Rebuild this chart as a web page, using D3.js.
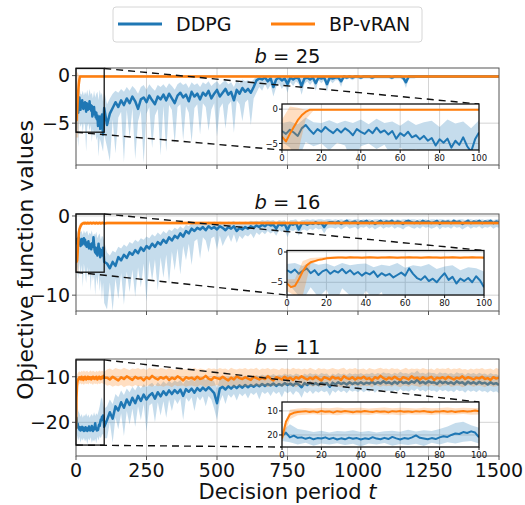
<!DOCTYPE html>
<html lang="en">
<head>
<meta charset="UTF-8">
<title>Objective function values, DDPG vs BP-vRAN</title>
<script src="https://d3js.org/d3.v7.min.js"></script>
<style>
    body { margin: 0; background: #fff; }
    text { font-family: "DejaVu Sans", sans-serif; fill: #111; }
</style>
</head>
<body>
<script>
    // decision periods: every 2 up to 100 (inset detail), then every 10
    const tLine = d3.range(0, 101, 2).concat(d3.range(110, 1501, 10));
    // band samples: every 4 up to 100, then every 10
    const tBand = d3.range(0, 101, 4).concat(d3.range(110, 1501, 10));

    const seriesNames = ["DDPG", "BP-vRAN"];
    const xTicks = [0, 250, 500, 750, 1000, 1250, 1500];
    const insetXTicks = [0, 20, 40, 60, 80, 100];

    // ---------- b = 25 ----------
    const ddpg25 = [
        -3.2,-3.6,-3.0,-3.4,-3.9,-2.8,-2.3,-3.0,-3.6,-2.9,
        -3.3,-2.6,-3.1,-3.5,-2.9,-3.4,-2.8,-3.2,-3.8,-2.9,
        -3.3,-3.6,-3.0,-3.5,-2.7,-3.4,-3.1,-3.7,-3.2,-4.3,
        -3.5,-3.9,-3.3,-4.1,-3.8,-4.4,-3.9,-4.6,-4.2,-5.3,
        -4.4,-4.9,-4.3,-5.6,-4.6,-5.2,-4.1,-5.4,-6.2,-4.4,
        -3.4,
        -5.2,-4.0,-3.4,-2.8,-3.3,-2.6,-3.1,-2.4,-2.9,-2.2,
        -2.7,-3.5,-2.5,-2.3,-2.8,-2.1,-2.6,-3.0,-2.2,-2.5,
        -2.0,-2.6,-1.9,-2.4,-2.9,-2.1,-1.8,-2.3,-2.0,-2.7,
        -1.7,-2.2,-1.9,-2.5,-1.8,-2.1,-1.6,-2.4,-1.9,-1.5,
        -2.2,-1.8,-1.4,-2.0,-1.7,-2.6,-1.5,-1.9,-1.3,-1.7,
        -1.4,-1.8,-1.2,-0.5,-0.3,-0.4,-0.2,-0.6,-0.3,-1.2,
        -0.4,-0.2,-0.5,-0.3,-0.9,-0.2,-0.4,-0.2,-0.3,-1.1,
        -0.3,-0.2,-0.4,-0.2,-0.8,-0.2,-0.3,-0.2,-0.9,-0.2,
        -0.3,-0.2,-0.2,-0.6,-0.1,-0.2,-0.1,-0.2,-0.1,-0.1,
        -0.2,-0.1,-0.1,-0.1,-0.2,-0.1,-0.1,-0.1,-0.1,-0.1,
        -0.1,-0.2,-0.1,-0.1,-0.1,-0.2,-0.7,-0.1,-0.1,-0.1,
        -0.1,-0.1,-0.1,-0.1,-0.1,-0.1,-0.1,-0.1,-0.1,-0.1,
        -0.1,-0.1,-0.1,-0.1,-0.1,-0.1,-0.1,-0.1,-0.1,-0.1,
        -0.1,-0.1,-0.1,-0.1,-0.1,-0.1,-0.1,-0.1,-0.1,-0.1
    ];
    const ddpg25Lo = [
        -4.8,-5.6,-7.5,-4.8,-5.4,-5.0,-6.0,-4.9,-5.3,-8.0,-5.4,-5.0,-5.8,
        -5.2,-7.0,-5.6,-6.5,-5.8,-6.8,-6.4,-8.5,-6.6,-7.0,-7.5,-8.0,-6.2,
        -7.5,-9.0,-4.6,-8.2,-4.4,-3.8,-9.1,-3.6,-6.5,-3.4,
        -8.8,-4.8,-3.7,-9.2,-4.0,-3.3,-7.6,-4.2,-3.5,-8.4,
        -3.2,-8.0,-3.1,-3.6,-7.2,-3.3,-3.0,-6.8,-3.2,-3.9,
        -7.0,-3.4,-3.0,-6.2,-2.9,-3.3,-5.8,-3.6,-2.9,-6.4,
        -3.4,-2.9,-5.6,-3.1,-2.7,-6.0,-2.6,-3.0,-4.8,-2.8,
        -2.5,-5.2,-2.4,-1.8,-1.2,-1.6,-0.9,-1.5,-1.0,-2.2,
        -1.2,-0.8,-1.4,-0.9,-1.8,-0.7,-1.1,-0.6,-0.9,-2.0,
        -0.9,-0.6,-1.0,-0.6,-1.6,-0.5,-0.8,-0.5,-1.7,-0.5,
        -0.8,-0.5,-0.5,-1.2,-0.3,-0.4,-0.3,-0.5,-0.3,-0.3,
        -0.4,-0.3,-0.3,-0.3,-0.4,-0.3,-0.3,-0.3,-0.3,-0.3,
        -0.3,-0.4,-0.3,-0.3,-0.3,-0.5,-1.3,-0.3,-0.3,-0.3,
        -0.2,-0.2,-0.2,-0.2,-0.2,-0.2,-0.2,-0.2,-0.2,-0.2,
        -0.2,-0.2,-0.2,-0.2,-0.2,-0.2,-0.2,-0.2,-0.2,-0.2,
        -0.2,-0.2,-0.2,-0.2,-0.2,-0.2,-0.2,-0.2,-0.2,-0.2
    ];
    const ddpg25Hi = [
        -2.0,-1.8,-2.2,-1.2,-1.9,-2.0,-1.6,-2.1,-1.7,-2.0,-1.5,-2.2,-1.4,
        -2.0,-1.8,-2.4,-1.6,-2.3,-1.9,-1.7,-2.6,-1.5,-2.1,-1.8,-2.8,-1.6,
        -3.0,-2.4,-1.9,-1.6,-1.8,-1.4,-1.7,-1.2,-1.6,-1.1,
        -1.4,-1.9,-1.2,-1.0,-1.5,-0.9,-1.3,-1.6,-1.0,-1.2,
        -0.9,-1.3,-0.8,-1.1,-1.5,-0.9,-0.7,-1.0,-0.8,-1.3,
        -0.7,-1.0,-0.8,-1.2,-0.7,-0.9,-0.6,-1.1,-0.8,-0.6,
        -1.0,-0.7,-0.5,-0.9,-0.7,-1.2,-0.5,-0.8,-0.4,-0.6,
        -0.5,-0.7,-0.4,0.0,0.0,0.0,0.0,0.0,0.0,-0.3,
        0.0,0.0,0.0,0.0,0.0,0.0,0.0,0.0,0.0,0.0,
        0.0,0.0,0.0,0.0,0.0,0.0,0.0,0.0,0.0,0.0,
        0.0,0.0,0.0,0.0,0.0,0.0,0.0,0.0,0.0,0.0,
        0.0,0.0,0.0,0.0,0.0,0.0,0.0,0.0,0.0,0.0,
        0.0,0.0,0.0,0.0,0.0,0.0,0.0,0.0,0.0,0.0,
        0.0,0.0,0.0,0.0,0.0,0.0,0.0,0.0,0.0,0.0,
        0.0,0.0,0.0,0.0,0.0,0.0,0.0,0.0,0.0,0.0,
        0.0,0.0,0.0,0.0,0.0,0.0,0.0,0.0,0.0,0.0
    ];
    const bp25 = [
        -4.0,-4.7,-3.6,-2.6,-1.6,-0.9,-0.4,-0.1,-0.1,-0.1,
        -0.1,-0.1,-0.1,-0.1,-0.1,-0.1,-0.1,-0.1,-0.1,-0.1,
        -0.1,-0.1,-0.1,-0.1,-0.1,-0.1,-0.1,-0.1,-0.1,-0.1,
        -0.1,-0.1,-0.1,-0.1,-0.1,-0.1,-0.1,-0.1,-0.1,-0.1,
        -0.1,-0.1,-0.1,-0.1,-0.1,-0.1,-0.1,-0.1,-0.1,-0.1,
        -0.1,
        -0.1,-0.1,-0.1,-0.1,-0.1,-0.1,-0.1,-0.1,-0.1,-0.1,-0.1,-0.1,-0.1,-0.1,-0.1,-0.1,-0.1,-0.1,-0.1,-0.1,
        -0.1,-0.1,-0.1,-0.1,-0.1,-0.1,-0.1,-0.1,-0.1,-0.1,-0.1,-0.1,-0.1,-0.1,-0.1,-0.1,-0.1,-0.1,-0.1,-0.1,
        -0.1,-0.1,-0.1,-0.1,-0.1,-0.1,-0.1,-0.1,-0.1,-0.1,-0.1,-0.1,-0.1,-0.1,-0.1,-0.1,-0.1,-0.1,-0.1,-0.1,
        -0.1,-0.1,-0.1,-0.1,-0.1,-0.1,-0.1,-0.1,-0.1,-0.1,-0.1,-0.1,-0.1,-0.1,-0.1,-0.1,-0.1,-0.1,-0.1,-0.1,
        -0.1,-0.1,-0.1,-0.1,-0.1,-0.1,-0.1,-0.1,-0.1,-0.1,-0.1,-0.1,-0.1,-0.1,-0.1,-0.1,-0.1,-0.1,-0.1,-0.1,
        -0.1,-0.1,-0.1,-0.1,-0.1,-0.1,-0.1,-0.1,-0.1,-0.1,-0.1,-0.1,-0.1,-0.1,-0.1,-0.1,-0.1,-0.1,-0.1,-0.1,
        -0.1,-0.1,-0.1,-0.1,-0.1,-0.1,-0.1,-0.1,-0.1,-0.1,-0.1,-0.1,-0.1,-0.1,-0.1,-0.1,-0.1,-0.1,-0.1,-0.1
    ];
    const bp25Lo = [
        -6.5,-6.5,-6.5,-1.5,-0.2,-0.2,-0.2,-0.2,-0.2,-0.2,-0.2,-0.2,-0.2,
        -0.2,-0.2,-0.2,-0.2,-0.2,-0.2,-0.2,-0.2,-0.2,-0.2,-0.2,-0.2,-0.2,
        -0.2,-0.2,-0.2,-0.2,-0.2,-0.2,-0.2,-0.2,-0.2,-0.2,-0.2,-0.2,-0.2,-0.2,-0.2,-0.2,-0.2,-0.2,-0.2,-0.2,
        -0.2,-0.2,-0.2,-0.2,-0.2,-0.2,-0.2,-0.2,-0.2,-0.2,-0.2,-0.2,-0.2,-0.2,-0.2,-0.2,-0.2,-0.2,-0.2,-0.2,
        -0.2,-0.2,-0.2,-0.2,-0.2,-0.2,-0.2,-0.2,-0.2,-0.2,-0.2,-0.2,-0.2,-0.2,-0.2,-0.2,-0.2,-0.2,-0.2,-0.2,
        -0.2,-0.2,-0.2,-0.2,-0.2,-0.2,-0.2,-0.2,-0.2,-0.2,-0.2,-0.2,-0.2,-0.2,-0.2,-0.2,-0.2,-0.2,-0.2,-0.2,
        -0.2,-0.2,-0.2,-0.2,-0.2,-0.2,-0.2,-0.2,-0.2,-0.2,-0.2,-0.2,-0.2,-0.2,-0.2,-0.2,-0.2,-0.2,-0.2,-0.2,
        -0.2,-0.2,-0.2,-0.2,-0.2,-0.2,-0.2,-0.2,-0.2,-0.2,-0.2,-0.2,-0.2,-0.2,-0.2,-0.2,-0.2,-0.2,-0.2,-0.2,
        -0.2,-0.2,-0.2,-0.2,-0.2,-0.2,-0.2,-0.2,-0.2,-0.2,-0.2,-0.2,-0.2,-0.2,-0.2,-0.2,-0.2,-0.2,-0.2,-0.2
    ];
    const bp25Hi = [
        -1.5,0.4,0.2,-0.1,0.0,0.0,0.0,0.0,0.0,0.0,0.0,0.0,0.0,
        0.0,0.0,0.0,0.0,0.0,0.0,0.0,0.0,0.0,0.0,0.0,0.0,0.0,
        0.0,0.0,0.0,0.0,0.0,0.0,0.0,0.0,0.0,0.0,0.0,0.0,0.0,0.0,0.0,0.0,0.0,0.0,0.0,0.0,
        0.0,0.0,0.0,0.0,0.0,0.0,0.0,0.0,0.0,0.0,0.0,0.0,0.0,0.0,0.0,0.0,0.0,0.0,0.0,0.0,
        0.0,0.0,0.0,0.0,0.0,0.0,0.0,0.0,0.0,0.0,0.0,0.0,0.0,0.0,0.0,0.0,0.0,0.0,0.0,0.0,
        0.0,0.0,0.0,0.0,0.0,0.0,0.0,0.0,0.0,0.0,0.0,0.0,0.0,0.0,0.0,0.0,0.0,0.0,0.0,0.0,
        0.0,0.0,0.0,0.0,0.0,0.0,0.0,0.0,0.0,0.0,0.0,0.0,0.0,0.0,0.0,0.0,0.0,0.0,0.0,0.0,
        0.0,0.0,0.0,0.0,0.0,0.0,0.0,0.0,0.0,0.0,0.0,0.0,0.0,0.0,0.0,0.0,0.0,0.0,0.0,0.0,
        0.0,0.0,0.0,0.0,0.0,0.0,0.0,0.0,0.0,0.0,0.0,0.0,0.0,0.0,0.0,0.0,0.0,0.0,0.0,0.0
    ];

    // ---------- b = 16 ----------
    const ddpg16 = [
        -3.0,-3.4,-2.9,-3.6,-3.1,-2.7,-3.5,-3.0,-3.8,-3.2,
        -2.9,-3.6,-3.1,-3.4,-2.8,-3.5,-3.0,-3.7,-3.3,-3.9,
        -3.4,-3.7,-3.2,-4.1,-3.5,-3.9,-3.6,-4.2,-3.8,-3.4,
        -3.9,-2.7,-3.6,-4.3,-4.6,-4.0,-4.8,-4.4,-5.0,-4.2,
        -3.5,-4.6,-4.1,-5.2,-4.4,-4.8,-4.3,-5.0,-4.0,-4.7,
        -5.8,
        -6.0,-6.6,-5.8,-6.3,-5.2,-5.6,-4.9,-5.3,-4.6,-4.9,
        -4.3,-4.7,-4.0,-4.4,-3.8,-4.1,-3.5,-3.9,-3.3,-3.6,
        -3.0,-3.4,-2.7,-3.1,-2.5,-2.8,-2.2,-2.6,-1.9,-2.2,
        -1.6,-1.9,-1.5,-1.7,-1.4,-1.8,-1.3,-1.6,-1.4,-1.7,
        -1.3,-1.5,-1.8,-1.4,-1.6,-1.3,-1.9,-1.5,-1.7,-1.4,
        -1.6,-1.3,-1.5,-1.2,-1.4,-1.1,-1.3,-1.0,-1.2,-1.1,
        -1.6,-1.0,-1.2,-1.0,-1.8,-1.0,-1.1,-0.9,-1.7,-1.0,
        -0.9,-1.1,-0.9,-1.0,-0.8,-1.0,-0.9,-1.4,-0.9,-0.8,
        -0.8,-0.9,-0.7,-1.0,-0.8,-0.6,-0.9,-0.8,-0.7,-1.0,
        -0.7,-0.8,-0.6,-0.9,-0.7,-1.0,-0.8,-0.6,-0.9,-0.7,
        -0.8,-0.6,-0.9,-0.7,-0.8,-1.0,-0.7,-0.6,-0.8,-0.9,
        -0.7,-0.9,-0.6,-0.8,-0.7,-0.9,-0.8,-0.6,-1.0,-0.7,
        -0.8,-0.7,-0.9,-0.6,-0.8,-0.7,-1.0,-0.8,-0.6,-0.9,
        -0.7,-0.8,-0.6,-0.9,-0.7,-0.8,-0.6,-0.9,-0.7,-0.8
    ];
    const ddpg16Lo = [
        -5.0,-6.5,-8.0,-5.8,-7.5,-6.2,-9.0,-6.0,-7.2,-8.5,-6.4,-7.8,-6.6,
        -9.5,-7.0,-8.2,-7.4,-10.0,-7.6,-8.8,-7.2,-9.5,-8.0,-10.5,-8.4,-11.0,
        -11.8,-8.4,-12.0,-7.9,-10.5,-7.2,-11.2,-7.0,-9.6,-6.8,
        -10.2,-6.5,-9.0,-6.0,-10.8,-5.6,-8.2,-5.5,-9.4,-5.2,
        -7.8,-4.9,-8.6,-4.5,-6.9,-4.1,-7.4,-3.8,-5.6,-3.5,
        -6.2,-3.2,-2.9,-5.4,-2.7,-3.1,-4.6,-2.8,-2.6,-4.2,
        -2.5,-3.8,-3.0,-2.4,-3.3,-2.3,-3.4,-2.5,-2.9,-2.4,
        -2.6,-2.2,-2.8,-2.1,-2.4,-2.0,-2.3,-1.9,-2.2,-2.0,
        -2.5,-1.8,-2.0,-1.8,-2.7,-1.8,-1.9,-1.7,-2.5,-1.8,
        -1.7,-1.9,-1.6,-1.8,-1.5,-1.7,-1.6,-2.2,-1.6,-1.5,
        -1.5,-1.6,-1.4,-1.7,-1.5,-1.3,-1.6,-1.5,-1.4,-1.7,
        -1.4,-1.5,-1.3,-1.6,-1.4,-1.7,-1.5,-1.3,-1.6,-1.4,
        -1.5,-1.3,-1.6,-1.4,-1.5,-1.7,-1.4,-1.3,-1.5,-1.6,
        -1.4,-1.6,-1.3,-1.5,-1.4,-1.6,-1.5,-1.3,-1.7,-1.4,
        -1.5,-1.4,-1.6,-1.3,-1.5,-1.4,-1.7,-1.5,-1.3,-1.6,
        -1.4,-1.5,-1.3,-1.6,-1.4,-1.5,-1.3,-1.6,-1.4,-1.5
    ];
    const ddpg16Hi = [
        -2.0,-1.8,-2.3,-1.7,-2.1,-1.9,-2.4,-1.8,-2.2,-2.0,-1.9,-2.5,-2.1,
        -2.3,-1.8,-2.6,-2.2,-2.4,-2.0,-2.8,-2.4,-2.2,-3.0,-2.5,-2.7,-3.2,
        -4.6,-5.0,-4.4,-4.6,-3.9,-4.1,-3.6,-3.9,-3.3,-3.5,
        -3.0,-3.3,-2.8,-3.0,-2.6,-2.8,-2.3,-2.6,-2.1,-2.4,
        -1.9,-2.2,-1.7,-1.9,-1.5,-1.7,-1.3,-1.6,-1.1,-1.3,
        -0.9,-1.1,-0.8,-1.0,-0.8,-1.0,-0.7,-0.9,-0.7,-0.9,
        -0.7,-0.8,-1.0,-0.7,-0.8,-0.6,-1.0,-0.7,-0.9,-0.7,
        -0.8,-0.6,-0.7,-0.6,-0.7,-0.5,-0.6,-0.5,-0.6,-0.5,
        -0.8,-0.5,-0.6,-0.5,-0.9,-0.5,-0.5,-0.4,-0.8,-0.5,
        -0.5,-0.4,-0.5,-0.4,-0.5,-0.4,-0.4,-0.5,-0.4,-0.4,
        -0.5,-0.4,-0.5,-0.4,-0.5,-0.4,-0.4,-0.5,-0.4,-0.4,
        -0.5,-0.4,-0.5,-0.4,-0.5,-0.4,-0.4,-0.5,-0.4,-0.4,
        -0.5,-0.4,-0.5,-0.4,-0.5,-0.4,-0.4,-0.5,-0.4,-0.4,
        -0.5,-0.4,-0.5,-0.4,-0.5,-0.4,-0.4,-0.5,-0.4,-0.4,
        -0.5,-0.4,-0.5,-0.4,-0.5,-0.4,-0.4,-0.5,-0.4,-0.4,
        -0.5,-0.4,-0.5,-0.4,-0.5,-0.4,-0.4,-0.5,-0.4,-0.4
    ];
    const bp16 = [
        -5.2,-5.8,-5.6,-4.5,-3.2,-2.2,-1.7,-1.5,-1.3,-1.2,-1.05,-1.0,
        -0.95,-0.9,-0.9,-0.95,-0.85,-0.9,-0.9,-0.95,-0.9,-0.85,
        -0.9,-0.95,-0.9,-0.9,-0.85,-0.9,-0.95,-0.9,-0.9,-0.85,
        -0.9,-0.9,-0.95,-0.9,-0.85,-0.9,-0.9,-0.95,-0.9,-0.9,
        -0.85,-0.9,-0.95,-0.9,-0.9,-0.85,-0.9,-0.9,-0.95,
        -0.9,-0.9,-0.9,-0.9,-0.9,-0.9,-0.9,-0.9,-0.9,-0.9,-0.9,-0.9,-0.9,-0.9,-0.9,-0.9,-0.9,-0.9,-0.9,-0.9,
        -0.9,-0.9,-0.9,-0.9,-0.9,-0.9,-0.9,-0.9,-0.9,-0.9,-0.9,-0.9,-0.9,-0.9,-0.9,-0.9,-0.9,-0.9,-0.9,-0.9,
        -0.9,-0.9,-0.9,-0.9,-0.9,-0.9,-0.9,-0.9,-0.9,-0.9,-0.9,-0.9,-0.9,-0.9,-0.9,-0.9,-0.9,-0.9,-0.9,-0.9,
        -0.9,-0.9,-0.9,-0.9,-0.9,-0.9,-0.9,-0.9,-0.9,-0.9,-0.9,-0.9,-0.9,-0.9,-0.9,-0.9,-0.9,-0.9,-0.9,-0.9,
        -0.9,-0.9,-0.9,-0.9,-0.9,-0.9,-0.9,-0.9,-0.9,-0.9,-0.9,-0.9,-0.9,-0.9,-0.9,-0.9,-0.9,-0.9,-0.9,-0.9,
        -0.9,-0.9,-0.9,-0.9,-0.9,-0.9,-0.9,-0.9,-0.9,-0.9,-0.9,-0.9,-0.9,-0.9,-0.9,-0.9,-0.9,-0.9,-0.9,-0.9,
        -0.9,-0.9,-0.9,-0.9,-0.9,-0.9,-0.9,-0.9,-0.9,-0.9,-0.9,-0.9,-0.9,-0.9,-0.9,-0.9,-0.9,-0.9,-0.9,-0.9
    ];
    const bp16Lo = [
        -6.5,-7.2,-7.2,-2.0,-1.5,-1.2,-1.1,-1.1,-1.1,-1.1,-1.1,-1.1,-1.1,
        -1.1,-1.1,-1.1,-1.1,-1.1,-1.1,-1.1,-1.1,-1.1,-1.1,-1.1,-1.1,-1.1,
        -1.1,-1.1,-1.1,-1.1,-1.1,-1.1,-1.1,-1.1,-1.1,-1.1,-1.1,-1.1,-1.1,-1.1,-1.1,-1.1,-1.1,-1.1,-1.1,-1.1,
        -1.1,-1.1,-1.1,-1.1,-1.1,-1.1,-1.1,-1.1,-1.1,-1.1,-1.1,-1.1,-1.1,-1.1,-1.1,-1.1,-1.1,-1.1,-1.1,-1.1,
        -1.1,-1.1,-1.1,-1.1,-1.1,-1.1,-1.1,-1.1,-1.1,-1.1,-1.1,-1.1,-1.1,-1.1,-1.1,-1.1,-1.1,-1.1,-1.1,-1.1,
        -1.1,-1.1,-1.1,-1.1,-1.1,-1.1,-1.1,-1.1,-1.1,-1.1,-1.1,-1.1,-1.1,-1.1,-1.1,-1.1,-1.1,-1.1,-1.1,-1.1,
        -1.1,-1.1,-1.1,-1.1,-1.1,-1.1,-1.1,-1.1,-1.1,-1.1,-1.1,-1.1,-1.1,-1.1,-1.1,-1.1,-1.1,-1.1,-1.1,-1.1,
        -1.1,-1.1,-1.1,-1.1,-1.1,-1.1,-1.1,-1.1,-1.1,-1.1,-1.1,-1.1,-1.1,-1.1,-1.1,-1.1,-1.1,-1.1,-1.1,-1.1,
        -1.1,-1.1,-1.1,-1.1,-1.1,-1.1,-1.1,-1.1,-1.1,-1.1,-1.1,-1.1,-1.1,-1.1,-1.1,-1.1,-1.1,-1.1,-1.1,-1.1
    ];
    const bp16Hi = [
        -4.5,-4.5,-1.5,-1.0,-0.9,-0.8,-0.7,-0.7,-0.7,-0.7,-0.7,-0.7,-0.7,
        -0.7,-0.7,-0.7,-0.7,-0.7,-0.7,-0.7,-0.7,-0.7,-0.7,-0.7,-0.7,-0.7,
        -0.7,-0.7,-0.7,-0.7,-0.7,-0.7,-0.7,-0.7,-0.7,-0.7,-0.7,-0.7,-0.7,-0.7,-0.7,-0.7,-0.7,-0.7,-0.7,-0.7,
        -0.7,-0.7,-0.7,-0.7,-0.7,-0.7,-0.7,-0.7,-0.7,-0.7,-0.7,-0.7,-0.7,-0.7,-0.7,-0.7,-0.7,-0.7,-0.7,-0.7,
        -0.7,-0.7,-0.7,-0.7,-0.7,-0.7,-0.7,-0.7,-0.7,-0.7,-0.7,-0.7,-0.7,-0.7,-0.7,-0.7,-0.7,-0.7,-0.7,-0.7,
        -0.7,-0.7,-0.7,-0.7,-0.7,-0.7,-0.7,-0.7,-0.7,-0.7,-0.7,-0.7,-0.7,-0.7,-0.7,-0.7,-0.7,-0.7,-0.7,-0.7,
        -0.7,-0.7,-0.7,-0.7,-0.7,-0.7,-0.7,-0.7,-0.7,-0.7,-0.7,-0.7,-0.7,-0.7,-0.7,-0.7,-0.7,-0.7,-0.7,-0.7,
        -0.7,-0.7,-0.7,-0.7,-0.7,-0.7,-0.7,-0.7,-0.7,-0.7,-0.7,-0.7,-0.7,-0.7,-0.7,-0.7,-0.7,-0.7,-0.7,-0.7,
        -0.7,-0.7,-0.7,-0.7,-0.7,-0.7,-0.7,-0.7,-0.7,-0.7,-0.7,-0.7,-0.7,-0.7,-0.7,-0.7,-0.7,-0.7,-0.7,-0.7
    ];

    // ---------- b = 11 ----------
    const ddpg11 = [
        -20.5,-19.0,-21.0,-20.3,-21.2,-21.0,-21.6,-21.1,-21.8,-21.3,
        -21.5,-21.0,-21.7,-21.2,-21.9,-21.4,-21.8,-21.1,-21.6,-21.3,
        -21.9,-21.4,-21.7,-20.9,-21.5,-21.8,-21.2,-21.7,-20.8,-21.4,
        -21.9,-21.3,-21.6,-21.0,-20.2,-21.2,-21.5,-21.8,-21.3,-21.7,
        -21.0,-20.5,-20.8,-20.0,-19.4,-19.6,-18.8,-19.2,-18.5,-19.0,
        -21.0,
        -19.5,-17.8,-19.2,-16.5,-17.4,-15.6,-16.8,-15.0,-16.2,-14.6,
        -15.8,-14.2,-15.3,-13.9,-15.0,-14.1,-13.6,-14.8,-13.4,-14.3,
        -13.2,-14.0,-13.0,-13.8,-12.9,-13.6,-12.8,-14.2,-12.7,-13.3,
        -12.6,-13.5,-12.5,-13.1,-12.4,-13.0,-12.3,-12.9,-13.6,-15.8,
        -12.6,-12.2,-12.8,-12.1,-12.6,-12.0,-12.5,-11.9,-12.4,-11.8,
        -12.3,-11.8,-12.2,-11.7,-12.1,-11.6,-12.0,-11.6,-11.9,-11.5,
        -12.0,-11.6,-11.9,-11.4,-11.8,-11.5,-11.9,-11.4,-11.7,-12.3,
        -11.4,-11.8,-11.3,-11.7,-11.4,-11.8,-11.3,-11.6,-11.4,-12.2,
        -11.3,-11.7,-11.2,-11.6,-11.3,-11.7,-11.2,-11.6,-11.3,-11.6,
        -11.2,-11.6,-11.3,-11.5,-11.1,-11.6,-11.2,-11.5,-11.0,-11.4,
        -11.2,-11.6,-11.1,-11.5,-10.9,-11.4,-11.2,-11.5,-11.0,-11.3,
        -10.6,-11.4,-11.1,-11.5,-11.0,-11.3,-11.2,-11.6,-11.0,-11.4,
        -11.1,-11.5,-11.2,-11.6,-11.0,-11.4,-11.2,-11.7,-11.1,-11.5,
        -11.2,-11.6,-11.1,-11.5,-11.3,-11.7,-11.2,-11.6,-11.4,-11.8
    ];
    const ddpg11Lo = [
        -22.5,-23.0,-24.0,-23.2,-24.5,-23.5,-24.0,-23.4,-24.2,-23.6,-24.8,-23.5,-24.0,
        -23.3,-24.5,-23.8,-24.2,-23.6,-24.6,-23.2,-24.0,-23.0,-23.5,-22.8,-22.5,-23.5,
        -23.5,-20.0,-24.5,-19.0,-21.5,-18.0,-23.0,-17.5,-20.5,-17.0,
        -21.0,-16.5,-19.5,-16.0,-22.0,-16.3,-15.8,-20.0,-15.6,-18.5,
        -15.4,-19.0,-15.0,-17.5,-14.9,-16.0,-14.8,-19.5,-14.6,-15.5,
        -14.5,-17.5,-14.4,-15.2,-14.3,-16.5,-14.2,-15.0,-17.0,-19.5,
        -15.5,-14.0,-16.0,-13.9,-14.6,-13.8,-15.2,-13.7,-14.3,-13.6,
        -14.8,-13.5,-14.0,-13.4,-15.0,-13.3,-13.8,-13.3,-14.2,-13.2,
        -13.8,-13.3,-14.5,-13.1,-13.6,-13.2,-14.0,-13.1,-13.5,-14.6,
        -13.1,-13.6,-13.0,-13.8,-13.1,-13.5,-13.0,-13.4,-13.1,-14.2,
        -13.0,-13.5,-12.9,-13.4,-13.0,-13.6,-12.9,-13.3,-13.0,-13.4,
        -12.9,-13.4,-13.0,-13.3,-12.8,-13.5,-12.9,-13.3,-12.8,-13.2,
        -13.0,-13.4,-12.9,-13.3,-12.7,-13.2,-13.0,-13.3,-12.8,-13.1,
        -12.6,-13.2,-12.9,-13.3,-12.8,-13.1,-13.0,-13.4,-12.8,-13.2,
        -12.9,-13.3,-13.0,-13.4,-12.8,-13.2,-13.0,-13.5,-12.9,-13.3,
        -13.0,-13.4,-12.9,-13.3,-13.1,-13.5,-13.0,-13.4,-13.2,-13.6
    ];
    const ddpg11Hi = [
        -18.5,-15.5,-17.5,-18.0,-18.8,-18.2,-19.0,-18.4,-18.6,-18.0,-18.8,-18.3,-19.0,
        -18.5,-18.2,-18.7,-17.8,-18.6,-18.0,-18.4,-17.5,-16.5,-15.0,-14.5,-16.0,-17.0,
        -16.5,-15.0,-16.0,-13.8,-14.5,-13.0,-14.0,-12.6,-13.4,-12.2,
        -13.0,-11.8,-12.6,-11.6,-12.3,-11.7,-11.3,-12.1,-11.2,-11.8,
        -11.0,-11.6,-10.9,-11.4,-10.8,-11.2,-10.7,-11.6,-10.6,-11.0,
        -10.5,-11.1,-10.4,-10.8,-10.3,-10.7,-10.2,-10.6,-11.0,-12.5,
        -10.4,-10.1,-10.5,-10.0,-10.3,-9.9,-10.2,-9.8,-10.1,-9.7,
        -10.0,-9.7,-9.9,-9.6,-9.9,-9.5,-9.8,-9.5,-9.7,-9.4,
        -9.8,-9.5,-9.7,-9.3,-9.6,-9.4,-9.7,-9.3,-9.5,-10.0,
        -9.3,-9.6,-9.2,-9.5,-9.3,-9.6,-9.2,-9.4,-9.3,-9.9,
        -9.3,-9.6,-9.2,-9.5,-9.3,-9.6,-9.2,-9.5,-9.3,-9.5,
        -9.2,-9.5,-9.3,-9.4,-9.1,-9.5,-9.2,-9.4,-9.0,-9.3,
        -9.2,-9.5,-9.1,-9.4,-8.9,-9.3,-9.2,-9.4,-9.0,-9.2,
        -8.6,-9.3,-9.1,-9.4,-9.0,-9.2,-9.2,-9.5,-9.0,-9.3,
        -9.1,-9.4,-9.2,-9.5,-9.0,-9.3,-9.2,-9.6,-9.1,-9.4,
        -9.2,-9.5,-9.1,-9.4,-9.3,-9.6,-9.2,-9.5,-9.4,-9.7
    ];
    const bp11 = [
        -21.5,-14.5,-11.5,-10.8,-10.5,-10.3,-10.1,-10.5,-10.2,-10.6,
        -10.0,-10.4,-10.2,-10.7,-10.1,-10.4,-10.0,-10.3,-10.6,-10.2,
        -10.4,-10.0,-10.3,-10.5,-10.1,-10.4,-10.2,-10.6,-10.1,-10.3,
        -10.0,-10.4,-10.2,-10.5,-10.1,-10.3,-10.0,-10.4,-10.6,-10.2,
        -10.3,-10.0,-10.4,-10.1,-10.5,-10.2,-10.0,-10.3,-10.1,-9.8,
        -10.2,
        -10.2,-10.6,-10.0,-10.4,-10.8,-10.1,-10.5,-9.9,-10.3,-10.7,
        -10.0,-10.4,-10.2,-10.8,-10.1,-10.5,-9.8,-10.3,-10.6,-10.1,
        -10.4,-10.0,-10.7,-10.2,-10.5,-9.9,-10.3,-10.8,-10.1,-10.4,
        -10.2,-10.6,-10.0,-10.5,-10.3,-9.8,-10.4,-10.7,-10.1,-10.3,
        -10.5,-10.0,-10.4,-10.8,-10.2,-10.6,-9.9,-10.3,-10.5,-10.1,
        -10.4,-10.7,-10.0,-10.3,-10.6,-10.2,-10.5,-9.9,-10.4,-10.8,
        -10.1,-10.3,-10.6,-10.0,-10.5,-10.2,-10.7,-10.1,-10.4,-9.9,
        -10.3,-10.6,-10.2,-10.5,-10.0,-10.4,-10.8,-10.1,-10.3,-10.6,
        -10.0,-10.4,-10.2,-10.7,-9.9,-10.3,-10.5,-10.1,-10.6,-10.2,
        -10.4,-10.0,-10.5,-10.3,-10.8,-10.1,-10.4,-9.8,-10.3,-10.6,
        -10.2,-10.5,-10.0,-10.4,-10.7,-10.1,-10.3,-10.6,-9.9,-10.4,
        -10.2,-10.6,-10.1,-10.5,-10.3,-10.0,-10.7,-10.2,-10.4,-10.1,
        -10.5,-10.0,-10.3,-10.6,-10.2,-10.4,-9.9,-10.5,-10.1,-10.3,
        -10.6,-10.2,-10.4,-10.0,-10.5,-10.3,-10.7,-10.1,-10.4,-10.2
    ];
    const bp11Lo = [
        -23.0,-13.5,-11.8,-11.6,-11.4,-11.7,-11.5,-11.8,-11.4,-11.6,-11.5,-11.7,-11.3,
        -11.6,-11.5,-11.8,-11.4,-11.6,-11.5,-11.7,-11.4,-11.6,-11.5,-11.3,-11.6,-11.5,
        -12.0,-11.8,-12.2,-11.9,-12.1,-11.8,-12.3,-12.0,-11.9,-12.2,
        -11.8,-12.1,-12.0,-12.3,-11.9,-12.0,-12.2,-11.8,-12.1,-12.0,
        -12.2,-11.9,-12.0,-12.3,-11.8,-12.1,-12.0,-11.9,-12.2,-12.0,
        -11.9,-12.1,-12.2,-11.8,-12.0,-12.3,-11.9,-12.1,-12.0,-11.8,
        -12.1,-12.0,-12.2,-11.9,-12.0,-12.3,-11.8,-12.1,-12.0,-12.2,
        -11.9,-12.0,-12.1,-11.8,-12.2,-12.0,-11.9,-12.3,-12.0,-12.1,
        -12.0,-11.9,-12.2,-12.0,-11.8,-12.1,-12.0,-12.3,-11.9,-12.0,
        -12.1,-11.8,-12.0,-12.2,-11.9,-12.1,-12.3,-11.9,-12.0,-12.2,
        -11.8,-12.0,-12.1,-12.3,-11.9,-12.0,-12.2,-11.8,-12.1,-12.0,
        -12.2,-11.9,-12.1,-12.0,-12.3,-11.8,-12.0,-12.2,-11.9,-12.1,
        -12.0,-12.2,-11.8,-12.1,-12.3,-11.9,-12.0,-12.2,-11.8,-12.0,
        -12.1,-12.3,-11.9,-12.0,-12.2,-11.8,-12.1,-12.0,-12.3,-11.9,
        -12.0,-11.8,-12.2,-12.1,-11.9,-12.0,-12.3,-12.1,-11.8,-12.0,
        -12.2,-12.0,-11.9,-12.1,-12.3,-11.9,-12.0,-12.2,-12.1,-11.9
    ];
    const bp11Hi = [
        -18.5,-9.5,-9.0,-8.8,-9.0,-8.7,-8.9,-8.6,-8.9,-8.8,-8.7,-9.0,-8.8,
        -8.6,-8.9,-8.7,-8.8,-9.0,-8.7,-8.9,-8.8,-8.6,-8.9,-8.7,-8.8,-8.9,
        -8.4,-8.2,-8.5,-8.1,-8.3,-8.4,-8.0,-8.3,-8.5,-8.2,
        -8.3,-8.1,-8.4,-8.2,-8.5,-8.0,-8.3,-8.2,-8.4,-8.1,
        -8.2,-8.4,-8.1,-8.3,-8.5,-8.2,-8.0,-8.3,-8.4,-8.2,
        -8.3,-8.0,-8.4,-8.2,-8.3,-8.5,-8.1,-8.3,-8.2,-8.4,
        -8.1,-8.3,-8.2,-8.5,-8.0,-8.3,-8.4,-8.2,-8.3,-8.1,
        -8.4,-8.2,-8.3,-8.0,-8.5,-8.2,-8.3,-8.1,-8.4,-8.2,
        -8.3,-8.5,-8.1,-8.3,-8.2,-8.4,-8.0,-8.3,-8.2,-8.4,
        -8.2,-8.4,-8.0,-8.3,-8.5,-8.1,-8.3,-8.2,-8.4,-8.3,
        -8.1,-8.3,-8.4,-8.2,-8.0,-8.5,-8.2,-8.3,-8.1,-8.4,
        -8.3,-8.2,-8.5,-8.1,-8.3,-8.4,-8.2,-8.0,-8.3,-8.2,
        -8.4,-8.1,-8.3,-8.2,-8.5,-8.3,-8.0,-8.4,-8.2,-8.3,
        -8.2,-8.4,-8.1,-8.3,-8.4,-8.2,-8.5,-8.1,-8.3,-8.2,
        -8.3,-8.0,-8.4,-8.2,-8.3,-8.1,-8.4,-8.3,-8.5,-8.2,
        -8.4,-8.2,-8.3,-8.1,-8.4,-8.3,-8.2,-8.5,-8.1,-8.3
    ];

    // sanity check on hand-typed lengths
    [["ddpg25", ddpg25, tLine], ["bp25", bp25, tLine], ["ddpg16", ddpg16, tLine], ["bp16", bp16, tLine],
     ["ddpg11", ddpg11, tLine], ["bp11", bp11, tLine],
     ["ddpg25Lo", ddpg25Lo, tBand], ["ddpg25Hi", ddpg25Hi, tBand], ["bp25Lo", bp25Lo, tBand], ["bp25Hi", bp25Hi, tBand],
     ["ddpg16Lo", ddpg16Lo, tBand], ["ddpg16Hi", ddpg16Hi, tBand], ["bp16Lo", bp16Lo, tBand], ["bp16Hi", bp16Hi, tBand],
     ["ddpg11Lo", ddpg11Lo, tBand], ["ddpg11Hi", ddpg11Hi, tBand], ["bp11Lo", bp11Lo, tBand], ["bp11Hi", bp11Hi, tBand]]
        .forEach(([n, a, t]) => { if (a.length !== t.length) throw new Error(n + " has " + a.length + " expected " + t.length); });

    const colors = ["#1f77b4", "#ff7f0e"];

    // layout of the three panels
    const left = 76, right = 499;
    const panels = [
        {b: "25", top: 68, bottom: 165, ylim: [-9.4, 0.8], yticks: [0, -5], ylabels: ["0", "\u22125"],
         inset: {x0: 282, x1: 479, y0: 104, y1: 150, ylim: [-5.95, 0.75], yticks: [0, -5], ylabels: ["0", "\u22125"]},
         ddpg: [ddpg25, ddpg25Lo, ddpg25Hi], bp: [bp25, bp25Lo, bp25Hi]},
        {b: "16", top: 214, bottom: 311, ylim: [-12.0, 0.25], yticks: [0, -10], ylabels: ["0", "\u221210"],
         inset: {x0: 287, x1: 484, y0: 250.5, y1: 295, ylim: [-7.1, 0.25], yticks: [0, -5], ylabels: ["0", "\u22125"]},
         ddpg: [ddpg16, ddpg16Lo, ddpg16Hi], bp: [bp16, bp16Lo, bp16Hi]},
        {b: "11", top: 359, bottom: 456, ylim: [-27.4, -6.1], yticks: [-10, -20], ylabels: ["\u221210", "\u221220"],
         inset: {x0: 282, x1: 479, y0: 402, y1: 447, ylim: [-25.0, -6.3], yticks: [-10, -20], ylabels: ["10", "20"]},
         ddpg: [ddpg11, ddpg11Lo, ddpg11Hi], bp: [bp11, bp11Lo, bp11Hi]}
    ];

    const svg = d3.select("body").append("svg")
        .attr("width", 525)
        .attr("height", 505);

    const x = d3.scaleLinear().domain([0, 1500]).range([left, right]);

    function drawSeries(g, xs, ys, series, color, tMax, lw) {
        const [mean, lo, hi] = series;
        const band = tBand.map((t, i) => ({t: t, lo: lo[i], hi: hi[i]})).filter(d => d.t <= tMax);
        const line = tLine.map((t, i) => ({t: t, v: mean[i]})).filter(d => d.t <= tMax);
        g.append("path")
            .datum(band)
            .attr("fill", color)
            .attr("fill-opacity", 0.26)
            .attr("d", d3.area().x(d => xs(d.t)).y0(d => ys(d.lo)).y1(d => ys(d.hi)));
        g.append("path")
            .datum(line)
            .attr("fill", "none")
            .attr("stroke", color)
            .attr("stroke-width", lw)
            .attr("stroke-linejoin", "round")
            .attr("d", d3.line().x(d => xs(d.t)).y(d => ys(d.v)));
    }

    panels.forEach((p, k) => {
        const y = d3.scaleLinear().domain(p.ylim).range([p.bottom, p.top]);
        const g = svg.append("g");

        // clip for the main axes
        g.append("clipPath").attr("id", "clip" + k)
            .append("rect")
            .attr("x", left).attr("y", p.top)
            .attr("width", right - left).attr("height", p.bottom - p.top);

        // grid
        g.selectAll(".gx").data(xTicks.slice(1, -1)).enter().append("line")
            .attr("x1", d => x(d)).attr("x2", d => x(d))
            .attr("y1", p.top).attr("y2", p.bottom)
            .attr("stroke", "#d4d4d4").attr("stroke-width", 1);
        g.selectAll(".gy").data(p.yticks).enter().append("line")
            .attr("x1", left).attr("x2", right)
            .attr("y1", d => y(d)).attr("y2", d => y(d))
            .attr("stroke", "#d4d4d4").attr("stroke-width", 1);

        const plot = g.append("g").attr("clip-path", `url(#clip${k})`);
        drawSeries(plot, x, y, p.ddpg, colors[0], 1500, 2.5);
        drawSeries(plot, x, y, p.bp, colors[1], 1500, 2.5);

        // spines
        g.append("rect")
            .attr("x", left).attr("y", p.top)
            .attr("width", right - left).attr("height", p.bottom - p.top)
            .attr("fill", "none").attr("stroke", "#555").attr("stroke-width", 1);

        // y ticks
        p.yticks.forEach((v, i) => {
            g.append("line")
                .attr("x1", left - 4).attr("x2", left)
                .attr("y1", y(v)).attr("y2", y(v))
                .attr("stroke", "#555");
            g.append("text")
                .attr("x", left - 6).attr("y", y(v))
                .attr("dy", "0.36em")
                .attr("text-anchor", "end")
                .attr("font-size", "19px")
                .text(p.ylabels[i]);
        });
        // x tick marks
        xTicks.forEach(v => {
            g.append("line")
                .attr("x1", x(v)).attr("x2", x(v))
                .attr("y1", p.bottom).attr("y2", p.bottom + 4)
                .attr("stroke", "#555");
        });

        // title
        const title = g.append("text")
            .attr("x", (left + right) / 2).attr("y", p.top - 5)
            .attr("text-anchor", "middle")
            .attr("font-size", "19.5px");
        title.append("tspan").attr("font-style", "italic").text("b");
        title.append("tspan").text(" = " + p.b);

        // zoomed region and connectors
        const ins = p.inset;
        const rx0 = x(0), rx1 = x(100), ry0 = y(ins.ylim[1]), ry1 = y(ins.ylim[0]);
        g.append("rect")
            .attr("x", rx0).attr("y", ry0)
            .attr("width", rx1 - rx0).attr("height", ry1 - ry0)
            .attr("fill", "none").attr("stroke", "#111").attr("stroke-width", 1.3);
        g.append("line")
            .attr("x1", rx1).attr("y1", ry0).attr("x2", ins.x1).attr("y2", ins.y0)
            .attr("stroke", "#111").attr("stroke-width", 1.4).attr("stroke-dasharray", "7,5");
        g.append("line")
            .attr("x1", rx0).attr("y1", ry1).attr("x2", ins.x0).attr("y2", ins.y1)
            .attr("stroke", "#111").attr("stroke-width", 1.4).attr("stroke-dasharray", "7,5");

        // inset axes
        const xi = d3.scaleLinear().domain([0, 100]).range([ins.x0, ins.x1]);
        const yi = d3.scaleLinear().domain(ins.ylim).range([ins.y1, ins.y0]);
        const gi = g.append("g");
        gi.append("rect")
            .attr("x", ins.x0).attr("y", ins.y0)
            .attr("width", ins.x1 - ins.x0).attr("height", ins.y1 - ins.y0)
            .attr("fill", "#fff");
        gi.append("clipPath").attr("id", "iclip" + k)
            .append("rect")
            .attr("x", ins.x0).attr("y", ins.y0)
            .attr("width", ins.x1 - ins.x0).attr("height", ins.y1 - ins.y0);
        gi.selectAll(".igx").data(insetXTicks.slice(1, -1)).enter().append("line")
            .attr("x1", d => xi(d)).attr("x2", d => xi(d))
            .attr("y1", ins.y0).attr("y2", ins.y1)
            .attr("stroke", "#d4d4d4");
        gi.selectAll(".igy").data(ins.yticks).enter().append("line")
            .attr("x1", ins.x0).attr("x2", ins.x1)
            .attr("y1", d => yi(d)).attr("y2", d => yi(d))
            .attr("stroke", "#d4d4d4");
        const iplot = gi.append("g").attr("clip-path", `url(#iclip${k})`);
        drawSeries(iplot, xi, yi, p.ddpg, colors[0], 100, 2);
        drawSeries(iplot, xi, yi, p.bp, colors[1], 100, 2);
        gi.append("rect")
            .attr("x", ins.x0).attr("y", ins.y0)
            .attr("width", ins.x1 - ins.x0).attr("height", ins.y1 - ins.y0)
            .attr("fill", "none").attr("stroke", "#111").attr("stroke-width", 1.3);
        insetXTicks.forEach(v => {
            gi.append("line")
                .attr("x1", xi(v)).attr("x2", xi(v))
                .attr("y1", ins.y1).attr("y2", ins.y1 + 3)
                .attr("stroke", "#111");
            gi.append("text")
                .attr("x", xi(v)).attr("y", ins.y1 + 11)
                .attr("text-anchor", "middle")
                .attr("font-size", "8.5px")
                .text(v);
        });
        ins.yticks.forEach((v, i) => {
            gi.append("line")
                .attr("x1", ins.x0 - 3).attr("x2", ins.x0)
                .attr("y1", yi(v)).attr("y2", yi(v))
                .attr("stroke", "#111");
            gi.append("text")
                .attr("x", ins.x0 - 4).attr("y", yi(v))
                .attr("dy", "0.36em")
                .attr("text-anchor", "end")
                .attr("font-size", "8.5px")
                .text(ins.ylabels[i]);
        });
    });

    // x tick labels on the bottom panel only
    const last = panels[panels.length - 1];
    xTicks.forEach(v => {
        svg.append("text")
            .attr("x", x(v)).attr("y", last.bottom + 21)
            .attr("text-anchor", "middle")
            .attr("font-size", "19px")
            .text(v);
    });

    // axis labels
    const xl = svg.append("text")
        .attr("x", (left + right) / 2).attr("y", 499)
        .attr("text-anchor", "middle")
        .attr("font-size", "21px");
    xl.append("tspan").text("Decision period ");
    xl.append("tspan").attr("font-style", "italic").text("t");

    svg.append("text")
        .attr("transform", "translate(33,260) rotate(-90)")
        .attr("text-anchor", "middle")
        .attr("font-size", "22px")
        .text("Objective function values");

    // legend
    const lg = svg.append("g");
    lg.append("rect")
        .attr("x", 113).attr("y", 7)
        .attr("width", 309).attr("height", 35)
        .attr("rx", 3)
        .attr("fill", "#fff").attr("stroke", "#d6d6d6");
    const legendX = [118, 271];
    seriesNames.forEach((name, i) => {
        lg.append("line")
            .attr("x1", legendX[i]).attr("x2", legendX[i] + 44)
            .attr("y1", 24).attr("y2", 24)
            .attr("stroke", colors[i]).attr("stroke-width", 3);
        lg.append("text")
            .attr("x", legendX[i] + 58).attr("y", 31)
            .attr("font-size", "19px")
            .text(name);
    });
</script>
</body>
</html>
